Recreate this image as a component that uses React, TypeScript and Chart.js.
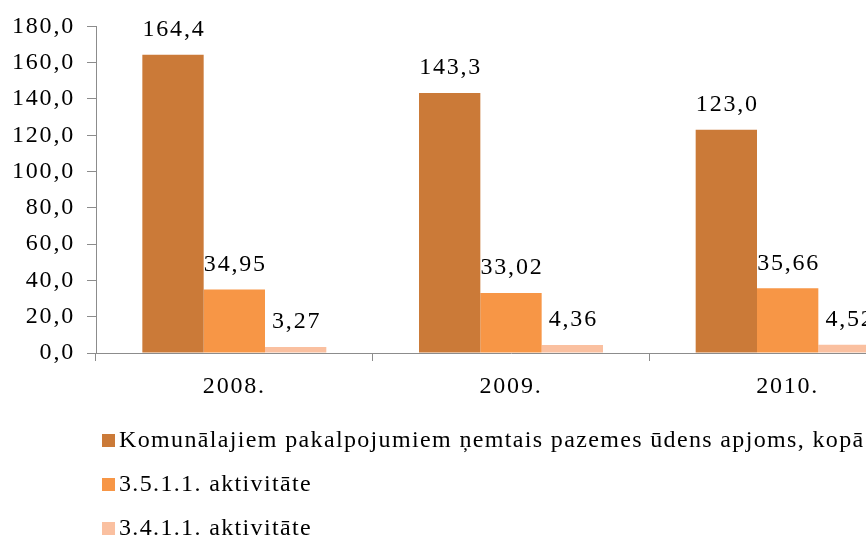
import React, { useEffect, useRef } from "react";
import { Chart, registerables } from "chart.js";

Chart.register(...registerables);

const categories = ["2008.", "2009.", "2010."];
const seriesLabels = [
  "Komunālajiem pakalpojumiem ņemtais pazemes ūdens apjoms, kopā",
  "3.5.1.1. aktivitāte",
  "3.4.1.1. aktivitāte",
];
const totalValues = [164.4, 143.3, 123.0];
const activity3511 = [34.95, 33.02, 35.66];
const activity3411 = [3.27, 4.36, 4.52];
const labelDecimals = [1, 2, 2];
const seriesColors = ["#CB7A38", "#F79646", "#FAC0A0"];
const yTicksMin = 0;
const yTicksMax = 180;
const yTicksStep = 20;

const FONT_FAMILY = "'Liberation Serif', 'Times New Roman', serif";
const FONT_SIZE = 24;
const AXIS_SPACING = "1.8px";
const LEGEND_SPACING = "1.35px";

const fmt = (v: number, d: number) => v.toFixed(d).replace(".", ",");

const letterSpacingPlugin = {
  id: "letterSpacing",
  beforeDraw(chart: any) {
    chart.ctx.letterSpacing = AXIS_SPACING;
  },
};

const dataLabelPlugin = {
  id: "dataLabels",
  afterDatasetsDraw(chart: any) {
    const ctx = chart.ctx;
    ctx.save();
    ctx.letterSpacing = AXIS_SPACING;
    ctx.font = `${FONT_SIZE}px ${FONT_FAMILY}`;
    ctx.fillStyle = "#000";
    ctx.textAlign = "center";
    ctx.textBaseline = "middle";
    chart.data.datasets.forEach((ds: any, i: number) => {
      const meta = chart.getDatasetMeta(i);
      meta.data.forEach((bar: any, j: number) => {
        ctx.fillText(fmt(ds.data[j], labelDecimals[i]), bar.x + 1, bar.y - 25);
      });
    });
    ctx.restore();
  },
};

const legendPlugin = {
  id: "customLegend",
  afterDraw(chart: any) {
    const ctx = chart.ctx;
    ctx.save();
    ctx.letterSpacing = LEGEND_SPACING;
    ctx.font = `${FONT_SIZE}px ${FONT_FAMILY}`;
    ctx.textAlign = "left";
    ctx.textBaseline = "middle";
    const rowY = [441, 485, 529];
    chart.data.datasets.forEach((ds: any, i: number) => {
      const y = rowY[i];
      ctx.fillStyle = ds.backgroundColor;
      ctx.fillRect(102, y - 7, 13, 13);
      ctx.fillStyle = "#000";
      ctx.fillText(ds.label, 119, y);
    });
    ctx.restore();
  },
};

export default function App() {
  const canvasRef = useRef<HTMLCanvasElement | null>(null);

  useEffect(() => {
    if (!canvasRef.current) return;
    const seriesData = [totalValues, activity3511, activity3411];
    const chart = new Chart(canvasRef.current, {
      type: "bar",
      data: {
        labels: categories,
        datasets: seriesData.map((d, i) => ({
          label: seriesLabels[i],
          data: d,
          backgroundColor: seriesColors[i],
          borderWidth: 0,
          categoryPercentage: 0.665,
          barPercentage: 1.0,
        })),
      },
      options: {
        responsive: false,
        animation: false,
        devicePixelRatio: 1,
        layout: { padding: { left: 12, top: 24, right: 4, bottom: 147 } },
        plugins: {
          legend: { display: false },
          tooltip: { enabled: false },
          title: { display: false },
        },
        scales: {
          x: {
            grid: {
              display: true,
              drawOnChartArea: false,
              drawTicks: true,
              tickLength: 8,
              color: "#8c8c8c",
              offset: true,
            },
            border: { color: "#8c8c8c", width: 1 },
            ticks: {
              color: "#000",
              font: { family: FONT_FAMILY, size: FONT_SIZE },
              padding: 11,
              maxRotation: 0,
            },
            afterFit: (s: any) => {
              s.height = 60;
            },
          },
          y: {
            min: yTicksMin,
            max: yTicksMax,
            grid: {
              display: true,
              drawOnChartArea: false,
              drawTicks: true,
              tickLength: 9,
              color: "#8c8c8c",
            },
            border: { color: "#8c8c8c", width: 1 },
            ticks: {
              stepSize: yTicksStep,
              color: "#000",
              font: { family: FONT_FAMILY, size: FONT_SIZE },
              padding: 12,
              callback: (v: any) => fmt(Number(v), 1),
            },
            afterFit: (s: any) => {
              s.width = 84;
            },
          },
        },
      },
      plugins: [letterSpacingPlugin, dataLabelPlugin, legendPlugin],
    });
    return () => chart.destroy();
  }, []);

  return (
    <div
      style={{
        position: "fixed",
        left: 0,
        top: 0,
        width: 866,
        height: 535,
        overflow: "hidden",
        background: "#fff",
      }}
    >
      <canvas
        ref={canvasRef}
        width={930}
        height={560}
        style={{ display: "block", width: 930, height: 560 }}
      />
    </div>
  );
}
